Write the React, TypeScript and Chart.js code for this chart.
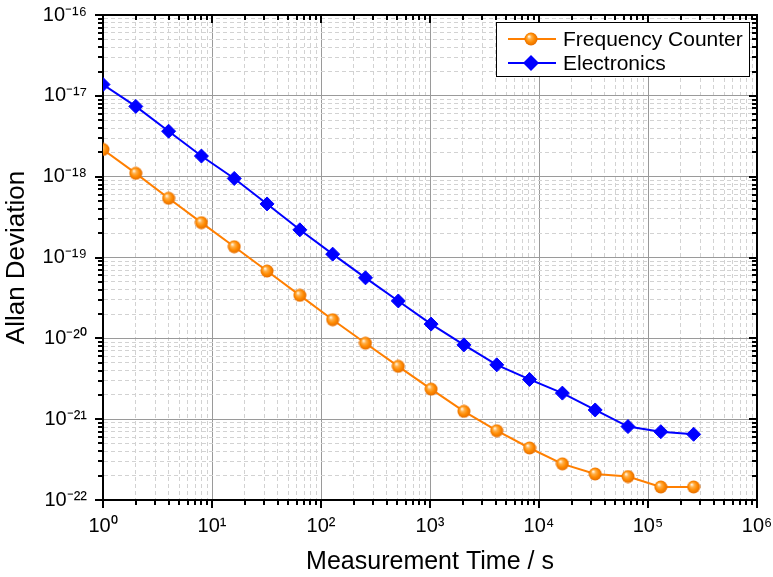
import { useEffect, useRef } from 'react';
import { Chart, registerables } from 'chart.js';

Chart.register(...registerables);

// ---- data ----
const measurementTimes = [1, 2, 4, 8, 16, 32, 64, 128, 256, 512, 1024, 2048, 4096, 8192, 16384, 32768, 65536, 131072, 262144];
const frequencyCounter = [2.17e-18, 1.1e-18, 5.4e-19, 2.7e-19, 1.36e-19, 6.8e-20, 3.4e-20, 1.7e-20, 8.7e-21, 4.5e-21, 2.35e-21, 1.25e-21, 7.2e-22, 4.4e-22, 2.8e-22, 2.1e-22, 1.95e-22, 1.45e-22, 1.45e-22];
const electronics = [1.38e-17, 7.4e-18, 3.65e-18, 1.8e-18, 9.5e-19, 4.6e-19, 2.2e-19, 1.1e-19, 5.6e-20, 2.9e-20, 1.5e-20, 8.3e-21, 4.7e-21, 3.1e-21, 2.1e-21, 1.3e-21, 8.1e-22, 7e-22, 6.5e-22];
const seriesNames = ['Frequency Counter', 'Electronics'];
const xDecades = [0, 1, 2, 3, 4, 5, 6];
const yDecades = [-22, -21, -20, -19, -18, -17, -16];
const xTitle = 'Measurement Time / s';
const yTitle = 'Allan Deviation';

const FONT = "'Liberation Sans', Arial, Helvetica, sans-serif";
const ORANGE = '#ff7f00';
const BLUE = '#0000ff';

const SUP: Record<string, string> = {
  '-': '\u207B', '0': '\u2070', '1': '\u00B9', '2': '\u00B2', '3': '\u00B3',
  '4': '\u2074', '5': '\u2075', '6': '\u2076', '7': '\u2077', '8': '\u2078', '9': '\u2079',
};
const sup = (n: number) => String(n).split('').map((c) => SUP[c] || c).join('');

function isMajor(v: number) {
  const l = Math.log10(v);
  return Math.abs(l - Math.round(l)) < 1e-6;
}

function logTicks(decades: number[]) {
  const out: { value: number }[] = [];
  for (let i = 0; i < decades.length; i++) {
    const d = decades[i];
    if (i === decades.length - 1) {
      out.push({ value: Number(`1e${d}`) });
    } else {
      for (let m = 1; m <= 9; m++) out.push({ value: Number(`${m}e${d}`) });
    }
  }
  return out;
}

function makeSphere(): HTMLCanvasElement {
  const c = document.createElement('canvas');
  c.width = 14;
  c.height = 14;
  const g = c.getContext('2d')!;
  const grad = g.createRadialGradient(5, 4.5, 0.5, 7, 7, 7);
  grad.addColorStop(0, '#fff1d8');
  grad.addColorStop(0.25, '#ffb04a');
  grad.addColorStop(0.6, '#ff8a00');
  grad.addColorStop(1, '#e06800');
  g.fillStyle = grad;
  g.beginPath();
  g.arc(7, 7, 6.5, 0, Math.PI * 2);
  g.fill();
  return c;
}

const gridColor = (ctx: any) => (ctx.tick && isMajor(ctx.tick.value) ? '#9a9a9a' : '#d2d2d2');
const gridDash = (ctx: any) => (ctx.tick && !isMajor(ctx.tick.value) ? [4, 3] : []);

// tick marks: outward on bottom/left, inward on top/right
const frameTicksPlugin = {
  id: 'frameTicks',
  afterDraw(chart: any) {
    const ctx = chart.ctx as CanvasRenderingContext2D;
    const { left, right, top, bottom } = chart.chartArea;
    const xs = chart.scales.x;
    const ys = chart.scales.y;
    ctx.save();
    ctx.strokeStyle = '#000';
    ctx.lineWidth = 2;
    ctx.beginPath();
    xs.ticks.forEach((t: any) => {
      const len = isMajor(t.value) ? 8 : 5;
      const px = Math.round(xs.getPixelForValue(t.value));
      ctx.moveTo(px, bottom);
      ctx.lineTo(px, bottom + len);
      ctx.moveTo(px, top);
      ctx.lineTo(px, top + len);
    });
    ys.ticks.forEach((t: any) => {
      const len = isMajor(t.value) ? 8 : 5;
      const py = Math.round(ys.getPixelForValue(t.value));
      ctx.moveTo(left, py);
      ctx.lineTo(left - len, py);
      ctx.moveTo(right, py);
      ctx.lineTo(right - len, py);
    });
    ctx.stroke();
    ctx.restore();
  },
};

const legendPlugin = {
  id: 'boxLegend',
  afterDraw(chart: any) {
    const ctx = chart.ctx as CanvasRenderingContext2D;
    const x0 = 496, y0 = 22, w = 253, h = 54;
    ctx.save();
    ctx.fillStyle = '#ffffff';
    ctx.fillRect(x0, y0, w, h);
    ctx.strokeStyle = '#000000';
    ctx.lineWidth = 1;
    ctx.strokeRect(x0 + 0.5, y0 + 0.5, w, h);
    chart.data.datasets.forEach((ds: any, i: number) => {
      const cy = 39 + i * 24;
      ctx.strokeStyle = ds.borderColor;
      ctx.lineWidth = 2;
      ctx.beginPath();
      ctx.moveTo(508, cy);
      ctx.lineTo(556, cy);
      ctx.stroke();
      if (ds.pointStyle instanceof HTMLCanvasElement) {
        const img = ds.pointStyle as HTMLCanvasElement;
        ctx.drawImage(img, 531 - img.width / 2, cy - img.height / 2);
      } else {
        ctx.fillStyle = ds.pointBackgroundColor;
        const r = 8;
        ctx.beginPath();
        ctx.moveTo(531 - r, cy);
        ctx.lineTo(531, cy - r);
        ctx.lineTo(531 + r, cy);
        ctx.lineTo(531, cy + r);
        ctx.closePath();
        ctx.fill();
      }
      ctx.fillStyle = '#000000';
      ctx.font = `21px ${FONT}`;
      ctx.textAlign = 'left';
      ctx.textBaseline = 'middle';
      ctx.fillText(ds.label, 563, cy + 1);
    });
    ctx.restore();
  },
};

export default function App() {
  const ref = useRef<HTMLCanvasElement | null>(null);
  useEffect(() => {
    if (!ref.current) return;
    const sphere = makeSphere();
    const chart = new Chart(ref.current, {
      type: 'line',
      data: {
        datasets: [
          {
            label: seriesNames[0],
            data: measurementTimes.map((t, i) => ({ x: t, y: frequencyCounter[i] })),
            borderColor: ORANGE,
            backgroundColor: ORANGE,
            borderWidth: 2,
            pointStyle: sphere as any,
            pointRadius: 7,
            tension: 0,
          },
          {
            label: seriesNames[1],
            data: measurementTimes.map((t, i) => ({ x: t, y: electronics[i] })),
            borderColor: BLUE,
            backgroundColor: BLUE,
            pointBackgroundColor: BLUE,
            pointBorderColor: BLUE,
            borderWidth: 2,
            pointStyle: 'rectRot',
            pointRadius: 7,
            pointBorderWidth: 1,
            tension: 0,
          },
        ],
      },
      options: {
        responsive: false,
        animation: false,
        layout: { padding: 0 },
        plugins: { legend: { display: false }, tooltip: { enabled: false } },
        scales: {
          x: {
            type: 'logarithmic',
            position: 'bottom',
            min: Number(`1e${xDecades[0]}`),
            max: Number(`1e${xDecades[xDecades.length - 1]}`),
            afterBuildTicks: (s: any) => { s.ticks = logTicks(xDecades); },
            afterFit: (s: any) => { s.height = 77; s.paddingLeft = 0; s.paddingRight = 0; },
            grid: {
              color: gridColor,
              lineWidth: 1,
              drawTicks: false,
            },
            border: { display: true, color: '#000', width: 2, dash: gridDash as any },
            ticks: {
              autoSkip: false,
              maxRotation: 0,
              padding: 14,
              color: '#000',
              font: { family: FONT, size: 20 },
              callback: (v: any) => (isMajor(Number(v)) ? '10' + sup(Math.round(Math.log10(Number(v)))) : ''),
            },
            title: {
              display: true,
              text: xTitle,
              color: '#000',
              font: { family: FONT, size: 25 },
              padding: { top: 0, bottom: 0 },
            },
          },
          x2: {
            type: 'logarithmic',
            position: 'top',
            min: Number(`1e${xDecades[0]}`),
            max: Number(`1e${xDecades[xDecades.length - 1]}`),
            afterFit: (s: any) => { s.height = 15; s.paddingLeft = 0; s.paddingRight = 0; },
            grid: { display: false, drawTicks: false },
            border: { display: true, color: '#000', width: 2 },
            ticks: { display: false },
          },
          y: {
            type: 'logarithmic',
            position: 'left',
            min: Number(`1e${yDecades[0]}`),
            max: Number(`1e${yDecades[yDecades.length - 1]}`),
            afterBuildTicks: (s: any) => { s.ticks = logTicks(yDecades); },
            afterFit: (s: any) => { s.width = 103; s.paddingTop = 0; s.paddingBottom = 0; },
            grid: {
              color: gridColor,
              lineWidth: 1,
              drawTicks: false,
            },
            border: { display: true, color: '#000', width: 2, dash: gridDash as any },
            ticks: {
              autoSkip: false,
              padding: 16,
              color: '#000',
              font: { family: FONT, size: 20 },
              callback: (v: any) => (isMajor(Number(v)) ? '10' + sup(Math.round(Math.log10(Number(v)))) : ''),
            },
            title: {
              display: true,
              text: yTitle,
              color: '#000',
              font: { family: FONT, size: 26 },
              padding: { top: 1, bottom: 0 },
            },
          },
          y2: {
            type: 'logarithmic',
            position: 'right',
            min: Number(`1e${yDecades[0]}`),
            max: Number(`1e${yDecades[yDecades.length - 1]}`),
            afterFit: (s: any) => { s.width = 16; s.paddingTop = 0; s.paddingBottom = 0; },
            grid: { display: false, drawTicks: false },
            border: { display: true, color: '#000', width: 2 },
            ticks: { display: false },
          },
        },
      },
      plugins: [frameTicksPlugin, legendPlugin],
    });
    return () => chart.destroy();
  }, []);
  return (
    <div style={{ position: 'fixed', left: 0, top: 0, width: 773, height: 577, background: '#fff' }}>
      <canvas ref={ref} width={773} height={577} style={{ display: 'block' }} />
    </div>
  );
}
